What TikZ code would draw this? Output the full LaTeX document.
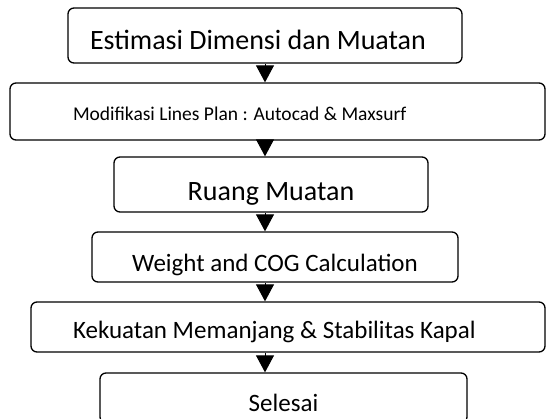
\documentclass[tikz,border=0pt]{standalone}
\usepackage{fontspec}
\setmainfont{Carlito}
\usetikzlibrary{arrows.meta}
\tikzset{
  kotak/.style={draw, line width=1.3pt, rounded corners=6pt, inner ysep=0pt, text depth=0pt},
  besar/.style={font=\fontsize{28}{30}\selectfont},
  sedang/.style={font=\fontsize{25}{27}\selectfont},
  kecil/.style={font=\fontsize{19.5}{21}\selectfont},
  panah/.style={-{Triangle[length=17pt,width=18pt]}, line width=1pt},
}
\begin{document}
\begin{tikzpicture}[x=1pt,y=-1pt]
  \useasboundingbox (0,0) rectangle (546,419);
  % Kotak
  \node[kotak, besar, minimum height=55pt, inner xsep=22pt, text width=350pt, align=flush left, text height=29pt] (estimasi) at (265,35.5) {Estimasi Dimensi dan Muatan};
  \node[kotak, kecil, minimum height=57pt, inner xsep=63pt, text width=409pt, align=flush left, text height=19pt] (modifikasi) at (277.5,111.5) {Modifikasi Lines Plan : Autocad \& Maxsurf};
  \node[kotak, besar, minimum height=55pt, minimum width=314pt, text height=33pt] (ruang) at (271,184.5) {Ruang Muatan};
  \node[kotak, sedang, minimum height=50pt, minimum width=366pt, text height=30pt] (weight) at (275,257) {Weight and COG Calculation};
  \node[kotak, sedang, minimum height=50pt, inner xsep=42pt, text width=430pt, align=flush left, text height=24pt] (kekuatan) at (288,327) {Kekuatan Memanjang \& Stabilitas Kapal};
  \node[kotak, sedang, minimum height=50pt, minimum width=367pt, text height=26pt] (selesai) at (283.5,398) {Selesai};
  % Panah
  \draw[panah] (estimasi.south) -- (estimasi.south |- modifikasi.north);
  \draw[panah] (modifikasi.south -| estimasi) -- (ruang.north -| estimasi);
  \draw[panah] (ruang.south -| estimasi) -- (weight.north -| estimasi);
  \draw[panah] (weight.south -| estimasi) -- (kekuatan.north -| estimasi);
  \draw[panah] (kekuatan.south -| estimasi) -- (selesai.north -| estimasi);
\end{tikzpicture}
\end{document}
